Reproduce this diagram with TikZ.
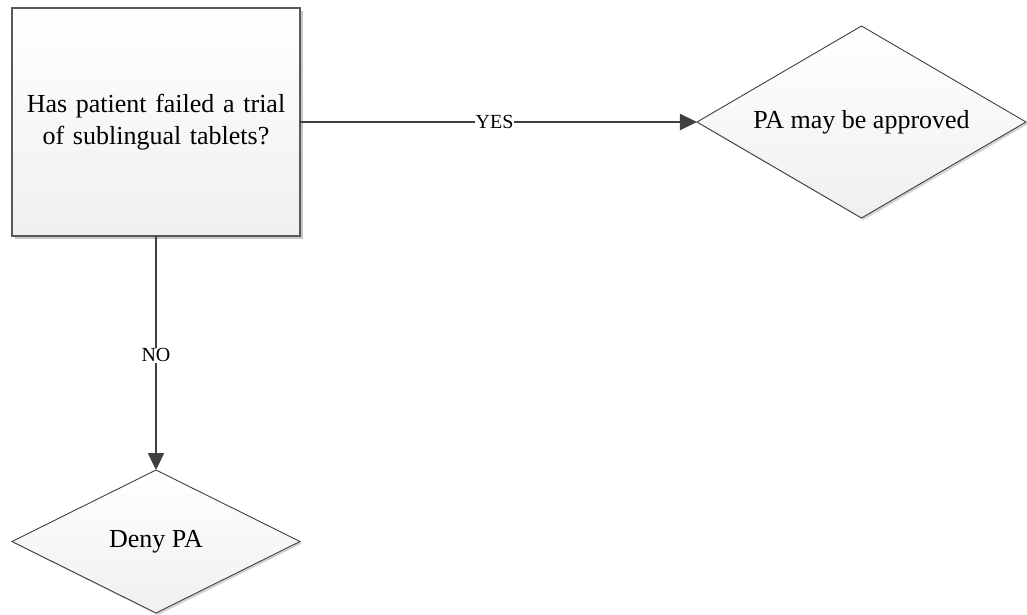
\documentclass[tikz,border=0pt]{standalone}
\usepackage{fontspec}
\setmainfont{Liberation Serif}
\usetikzlibrary{shapes.geometric,arrows.meta,positioning,shadows}
\tikzset{
  pabox/.style={
    rectangle, draw=black!65, line width=1.3pt, top color=white, bottom color=gray!12,
    minimum width=288pt, minimum height=228pt, text width=275pt,
    align=center, font=\fontsize{26}{32}\selectfont, outer sep=0pt,
    drop shadow={shadow xshift=3pt, shadow yshift=-3pt, fill=gray!45, opacity=1}
  },
  padecision/.style={
    diamond, aspect=2, draw=black!75, line width=0.9pt, top color=white, bottom color=gray!12,
    align=center, font=\fontsize{26}{32}\selectfont, inner sep=1pt, outer sep=0pt,
    drop shadow={shadow xshift=2pt, shadow yshift=-2pt, fill=gray!35, opacity=1}
  },
  paarrow/.style={-{Triangle[length=17pt,width=16pt]}, line width=2.3pt, draw=black!75},
  palabel/.style={font=\fontsize{20}{24}\selectfont, fill=white, inner sep=1pt},
}

\begin{document}
\begin{tikzpicture}[x=1pt, y=-1pt, node distance=234pt and 397pt]
  \useasboundingbox (0,0) rectangle (1027,614);
  \node (q1) [pabox] at (156,122) {Has patient failed a trial\\of sublingual tablets?};
  \node (ok) [padecision, minimum width=329pt, minimum height=192pt, right=of q1] {PA may be approved};
  \node (deny) [padecision, minimum width=288pt, minimum height=143pt, below=of q1] {Deny PA};
  \draw[paarrow] (q1)--(ok) node[palabel, pos=0.49] {YES};
  \draw[paarrow] (q1)--(deny) node[palabel, pos=0.51] {NO};
\end{tikzpicture}
\end{document}
